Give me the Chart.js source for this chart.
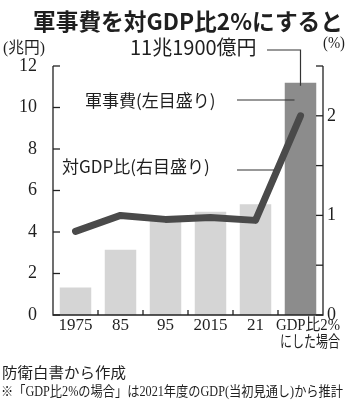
<!DOCTYPE html>
<html lang="ja">
<head>
<meta charset="utf-8">
<script src="https://cdn.jsdelivr.net/npm/chart.js@4.4.1/dist/chart.umd.min.js"></script>
<style>
html, body { margin: 0; padding: 0; background: #fff; }
#quadro { position: relative; width: 350px; height: 408px; overflow: hidden; }
#grafico { position: absolute; left: 0; top: 0; }
.txt { position: absolute; white-space: nowrap; color: #1f1f1f; transform-origin: 0 0; line-height: 1; }
#titulo { left: 33px; top: 3px; font: bold 23px 'Noto Sans CJK JP', sans-serif; }
#unidadeEsq { left: 3px; top: 34px; font: 16px 'Liberation Serif', 'Noto Sans CJK JP', serif; }
#unidadeDir { left: 323px; top: 34px; font: 16px 'Liberation Serif', 'Noto Sans CJK JP', serif; }
#fonte { left: 2px; top: 361px; font: 15px 'Liberation Serif', 'Noto Sans CJK JP', serif; }
#nota { left: 1px; top: 380px; font: 14px 'Liberation Serif', 'Noto Sans CJK JP', serif; }
</style>
</head>
<body>
<div id="quadro">
  <canvas id="grafico" width="350" height="408"></canvas>
  <div class="txt" id="titulo">軍事費を対GDP比2%にすると</div>
  <div class="txt" id="unidadeEsq">(兆円)</div>
  <div class="txt" id="unidadeDir">(%)</div>
  <div class="txt" id="fonte">防衛白書から作成</div>
  <div class="txt" id="nota">※「GDP比2%の場合」は2021年度のGDP(当初見通し)から推計</div>
</div>
<script>
// Categorias e séries
const anos = ['1975', '85', '95', '2015', '21', ['GDP比2%', 'にした場合']];
const gastoMilitar = [1.33, 3.14, 4.72, 4.98, 5.34, 11.19];   // 兆円 (eixo esquerdo)
const razaoPIB = [0.84, 1.0, 0.96, 0.98, 0.95, 2.0];           // % (eixo direito)
const ticksEsq = [0, 2, 4, 6, 8, 10, 12];
const ticksDir = [0, 0.5, 1, 1.5, 2, 2.5];

const serif = "'Liberation Serif', 'Noto Sans CJK JP', serif";
const gotica = "'Noto Sans CJK JP', sans-serif";

// Ajusta a largura de um texto com scaleX
function ajustar(id, largura) {
    const el = document.getElementById(id);
    const w = el.getBoundingClientRect().width;
    el.style.transform = 'scaleX(' + (largura / w) + ')';
}

function linha(ctx, x1, y1, x2, y2) {
    ctx.beginPath();
    ctx.moveTo(x1, y1);
    ctx.lineTo(x2, y2);
    ctx.stroke();
}

// texto com largura máxima (comprime na horizontal se passar)
function textoLimitado(ctx, txt, x, y, maxW, alinh) {
    const w = ctx.measureText(txt).width;
    const k = Math.min(1, maxW / w);
    ctx.save();
    ctx.translate(x, y);
    ctx.scale(k, 1);
    ctx.textAlign = alinh;
    ctx.fillText(txt, 0, 0);
    ctx.restore();
}

// Eixos com marcas internas, rótulos do eixo x e anotações
const eixosPlugin = {
    id: 'eixos',
    afterDatasetsDraw(chart) {
        const { ctx, chartArea: a, scales } = chart;
        const x = scales.x, yE = scales.y, yD = scales.y1;
        ctx.save();
        ctx.strokeStyle = '#222';
        ctx.lineWidth = 1.3;
        ctx.beginPath();
        ctx.moveTo(a.left, a.top);
        ctx.lineTo(a.left, a.bottom);
        ctx.lineTo(a.right, a.bottom);
        ctx.lineTo(a.right, a.top);
        ctx.stroke();
        ticksEsq.forEach(v => {
            const py = yE.getPixelForValue(v);
            linha(ctx, a.left, py, a.left + 7, py);
        });
        ticksDir.forEach(v => {
            const py = yD.getPixelForValue(v);
            linha(ctx, a.right - 7, py, a.right, py);
        });
        for (let i = 0; i < anos.length - 1; i++) {
            const px = (x.getPixelForValue(i) + x.getPixelForValue(i + 1)) / 2;
            linha(ctx, px, a.bottom, px, a.bottom - 5);
        }

        // rótulos das categorias
        const n = anos.length - 1;
        ctx.fillStyle = '#1f1f1f';
        ctx.textBaseline = 'middle';
        ctx.font = '17px ' + serif;
        anos.forEach((rot, i) => {
            const px = x.getPixelForValue(i);
            if (Array.isArray(rot)) {
                ctx.font = '16px ' + serif;
                textoLimitado(ctx, rot[0], a.right + 17, a.bottom + 11, 64, 'right');
                textoLimitado(ctx, rot[1], a.right + 17, a.bottom + 28, 60, 'right');
            } else {
                ctx.textAlign = 'center';
                ctx.fillText(rot, px, a.bottom + 11);
            }
        });

        // anotações
        const xUlt = x.getPixelForValue(n);
        ctx.textAlign = 'left';
        ctx.lineWidth = 1.2;
        ctx.strokeStyle = '#333';

        ctx.font = '20px ' + gotica;
        ctx.fillText('11兆1900億円', 130, 47);
        const topoBarra = yE.getPixelForValue(gastoMilitar[n]);
        ctx.beginPath();
        ctx.moveTo(267, 50);
        ctx.lineTo(xUlt, 50);
        ctx.lineTo(xUlt, topoBarra + 3);
        ctx.stroke();

        ctx.font = '17px ' + gotica;
        ctx.fillText('軍事費(左目盛り)', 85, 101);
        linha(ctx, 237, 100, xUlt - 6, 100);

        ctx.fillText('対GDP比(右目盛り)', 62, 167);
        const yAlvo = 170;
        const x0 = x.getPixelForValue(n - 1), y0 = yD.getPixelForValue(razaoPIB[n - 1]);
        const x1 = xUlt, y1 = yD.getPixelForValue(razaoPIB[n]);
        const xCruz = x0 + (y0 - yAlvo) / (y0 - y1) * (x1 - x0);
        linha(ctx, 237, yAlvo, xCruz - 3, yAlvo);
        ctx.restore();
    }
};

document.addEventListener('DOMContentLoaded', function() {
    ajustar('titulo', 310);
    ajustar('unidadeEsq', 42);
    ajustar('unidadeDir', 22);
    ajustar('fonte', 124);
    ajustar('nota', 342);

    const ctx = document.getElementById('grafico');
    new Chart(ctx, {
        data: {
            labels: anos,
            datasets: [{
                type: 'line',
                data: razaoPIB,
                yAxisID: 'y1',
                borderColor: '#4a4a4a',
                borderWidth: 7,
                borderCapStyle: 'round',
                borderJoinStyle: 'round',
                pointRadius: 0,
                tension: 0,
                order: 0
            }, {
                type: 'bar',
                data: gastoMilitar,
                yAxisID: 'y',
                backgroundColor: ['#d5d5d5', '#d5d5d5', '#d5d5d5', '#d5d5d5', '#d5d5d5', '#8c8c8c'],
                barPercentage: 0.7,
                categoryPercentage: 1,
                order: 1
            }]
        },
        options: {
            responsive: false,
            animation: false,
            layout: { padding: { left: 0, right: 0, top: 66, bottom: 52 } },
            plugins: { legend: { display: false }, tooltip: { enabled: false } },
            scales: {
                x: {
                    offset: true,
                    grid: { display: false },
                    border: { display: false },
                    ticks: { display: false },
                    afterFit: s => { s.height = 41; }
                },
                y: {
                    position: 'left',
                    min: 0, max: 12,
                    grid: { display: false, drawTicks: false },
                    border: { display: false },
                    ticks: { stepSize: 2, color: '#1f1f1f', font: { family: serif, size: 18 }, padding: 16 },
                    afterFit: s => { s.width = 53; }
                },
                y1: {
                    position: 'right',
                    min: 0, max: 2.5,
                    grid: { display: false, drawTicks: false },
                    border: { display: false },
                    ticks: {
                        stepSize: 0.5, color: '#1f1f1f', font: { family: serif, size: 18 }, padding: 4,
                        callback: v => Number.isInteger(v) ? v : ''
                    },
                    afterFit: s => { s.width = 27; }
                }
            }
        },
        plugins: [eixosPlugin]
    });
});
</script>
</body>
</html>
